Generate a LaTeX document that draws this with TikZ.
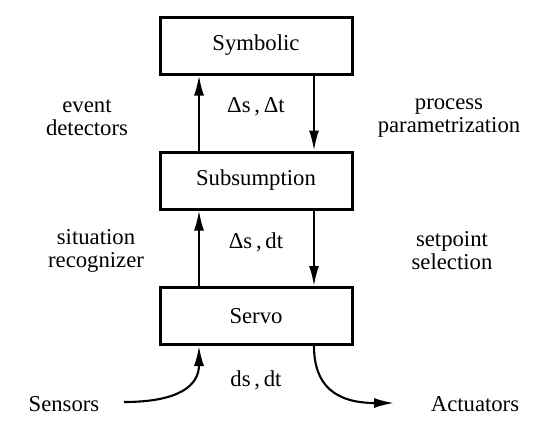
\documentclass[tikz,border=0pt]{standalone}
\usepackage{fontspec}
\setmainfont{Liberation Serif}
\usetikzlibrary{arrows.meta}
\begin{document}
\begin{tikzpicture}[x=1pt,y=-1pt,
  layerbox/.style={draw,line width=3pt,minimum width=192pt,minimum height=57pt,inner sep=0pt,font=\fontsize{22.7}{26}\selectfont},
  lbl/.style={align=center,font=\fontsize{22.7}{23}\selectfont,inner sep=0pt},
  flow/.style={line width=2.1pt,-{Latex[length=20pt,width=10pt]}}]
\useasboundingbox (0,0) rectangle (550,439);
\node[layerbox] (sym) at (256,45.5) {Symbolic};
\node[layerbox] (sub) at (256,180.5) {Subsumption};
\node[layerbox] (servo) at (256,316) {Servo};
\coordinate (ux) at (199,0);
\coordinate (dx) at (314,0);
\draw[flow] (sub.north -| ux) -- (sym.south -| ux);
\draw[flow] (sym.south -| dx) -- (sub.north -| dx);
\draw[flow] (servo.north -| ux) -- (sub.south -| ux);
\draw[flow] (sub.south -| dx) -- (servo.north -| dx);
\node[lbl] (l1) at (256,107) {Δs\,,\,Δt};
\node[lbl] (l2) at (256,242) {Δs\,,\,dt};
\node[lbl] (l3) at (256,380) {ds\,,\,dt};
\node[lbl] (ed) at (87,118) {event\\detectors};
\node[lbl] (pp) at (449,118) {process\\parametrization};
\node[lbl] (sr) at (96,251) {situation\\recognizer};
\node[lbl] (ss) at (452,251) {setpoint\\selection};
\node[lbl] (sen) at (64,404) {Sensors};
\node[lbl] (act) at (475,404) {Actuators};
\coordinate (sstart) at (124,402);
\coordinate (aend) at (394,403);
\draw[flow] (sstart) .. controls (180,402) and (199,385) .. (servo.south -| ux);
\draw[flow] (servo.south -| dx) .. controls (314,385) and (335,403) .. (aend);
\end{tikzpicture}
\end{document}
